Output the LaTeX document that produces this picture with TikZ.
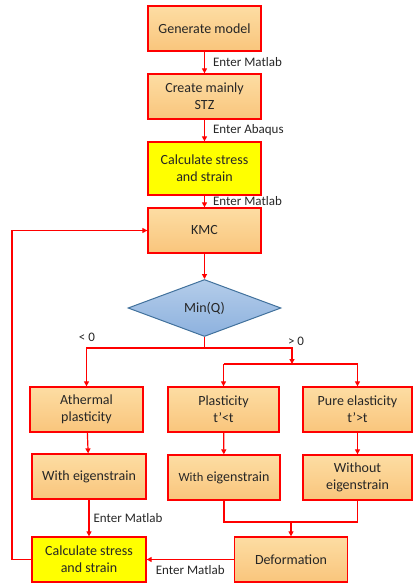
\documentclass[tikz,border=0pt]{standalone}
\usepackage{fontspec}
\setmainfont{Carlito}
\usetikzlibrary{shapes.geometric,arrows.meta}
\definecolor{otop}{HTML}{FDDDA3}
\definecolor{obot}{HTML}{F9C57C}
\definecolor{dtop}{HTML}{B4CDEA}
\definecolor{dbot}{HTML}{8DB1DE}
\definecolor{dborder}{HTML}{41719C}
\definecolor{lbl}{HTML}{262626}
\tikzset{
  box/.style={draw=red, line width=1.3pt, rectangle, minimum width=113pt, minimum height=45pt,
    top color=otop, bottom color=obot, align=center, font=\fontsize{14}{17}\selectfont, text=lbl, inner sep=1pt},
  ybox/.style={box, top color=yellow, bottom color=yellow, fill=yellow},
  dec/.style={draw=dborder, line width=1pt, diamond, minimum width=153pt, minimum height=57pt, inner sep=0pt,
    top color=dtop, bottom color=dbot, font=\fontsize{14}{17}\selectfont, text=lbl},
  conn/.style={draw=red, line width=1.2pt},
  arr/.style={conn, -{Triangle[length=5pt,width=5pt]}},
  lab/.style={font=\fontsize{13}{15}\selectfont, text=lbl, inner sep=0pt}
}
\begin{document}
\begin{tikzpicture}[x=1pt,y=-1pt]
\useasboundingbox (0,0) rectangle (413,584);
\node[box] (gen) at (204.5,28.5) {Generate model};
\node[box] (stz) at (204.5,96.5) {Create mainly\\STZ};
\node[ybox, minimum height=53pt] (calc1) at (204.5,168.5) {Calculate stress\\and strain};
\node[box] (kmc) at (204.5,230.5) {KMC};
\node[dec] (minq) at (204.5,308) {Min(Q)};
\node[box] (ath) at (86.5,409.5) {Athermal\\plasticity};
\node[box, minimum width=111pt] (pla) at (223.5,409.5) {Plasticity\\t’<t};
\node[box, minimum width=109pt] (pur) at (357.5,409.5) {Pure elasticity\\t’>t};
\node[box, minimum width=114pt] (we1) at (89,476.5) {With eigenstrain};
\node[box, minimum width=112pt] (we2) at (224,477.5) {{\fontsize{12.5}{15}\selectfont With} eigenstrain};
\node[box, minimum width=109pt] (woe) at (357.5,477.5) {Without\\eigenstrain};
\node[ybox, minimum width=114pt] (calc2) at (89,559.5) {Calculate stress\\and strain};
\node[box] (def) at (291,559.5) {Deformation};

\coordinate (split) at (204.5,348);
\coordinate (bus) at (292,364);
\coordinate (merge) at (0,522);
\coordinate (back) at (12,0);

\draw[arr] (gen) -- (stz) node[lab, midway, right=8pt] {Enter Matlab};
\draw[arr] (stz) -- (calc1) node[lab, midway, right=8pt] {Enter Abaqus};
\draw[arr] (calc1) -- (kmc) node[lab, midway, right=8pt] {Enter Matlab};
\draw[arr] (kmc) -- (minq);
\draw[conn] (minq.south) -- (split);
\draw[arr] (split) -| (ath.north);
\draw[arr] (split) -| (bus);
\draw[conn] (pla.north |- bus) -- (pur.north |- bus);
\draw[arr] (pla.north |- bus) -- (pla.north);
\draw[arr] (pur.north |- bus) -- (pur.north);
\node[lab] (lt) at (87,337) {< 0};
\node[lab] (gt) at (296,341) {> 0};
\draw[arr] (ath) -- (we1);
\draw[arr] (pla) -- (we2);
\draw[arr] (pur) -- (woe);
\draw[arr] (we1) -- (calc2) node[lab, midway, right=4pt] {Enter Matlab};
\draw[conn] (we2.south) -- (we2.south |- merge) -- (woe.south |- merge) -- (woe.south);
\draw[arr] (def.north |- merge) -- (def.north);
\draw[arr] (def.west) -- (calc2.east) node[lab, midway, below=5pt] {Enter Matlab};
\draw[arr] (calc2.west) -- (back |- calc2.west) |- (kmc.west);
\end{tikzpicture}
\end{document}
